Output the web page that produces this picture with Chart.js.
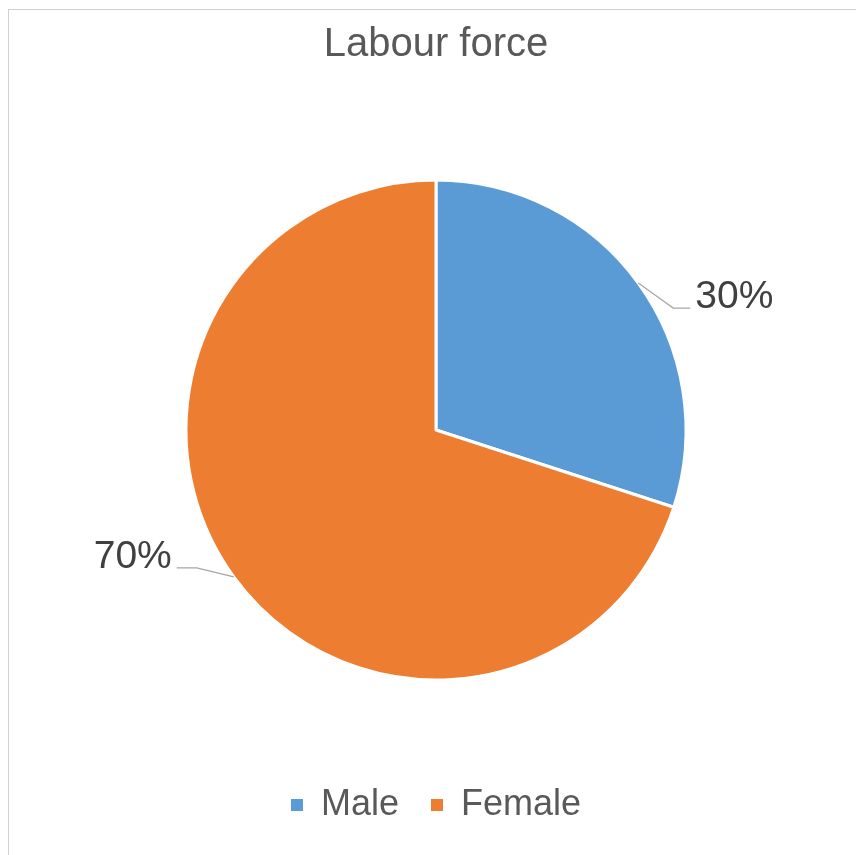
<!DOCTYPE html>
<html>
<head>
<meta charset="utf-8">
<title>Labour force</title>
<script src="https://cdn.jsdelivr.net/npm/chart.js@4.4.1/dist/chart.umd.min.js"></script>
<style>
  html, body { margin: 0; padding: 0; background: #ffffff; }
  #wrap { position: relative; width: 856px; height: 855px; overflow: hidden; }
  #frame { position: absolute; left: 8px; top: 9px; width: 900px; height: 900px; border-left: 1px solid #d0d0d0; border-top: 1px solid #d0d0d0; }
  #chart { position: absolute; left: 0; top: 0; }
</style>
</head>
<body>
<div id="wrap">
  <div id="frame"></div>
  <canvas id="chart" width="856" height="855"></canvas>
</div>
<script>
// Labour force split by sex (percent)
const categories = ["Male", "Female"];
const shares = [30, 70];
const sliceColors = ["#5B9BD5", "#ED7D31"];
const pctLabels = ["30%", "70%"];

// leader line elbow offsets from the arc edge, and the horizontal run
const leaderStyles = [
  { dx: 35, dy: 25, run: 17 },
  { dx: -37, dy: -9, run: -20 }
];

const leaderLabels = {
  id: "leaderLabels",
  afterDatasetsDraw(chart) {
    const ctx = chart.ctx;
    const meta = chart.getDatasetMeta(0);
    ctx.save();
    ctx.font = "39px 'Liberation Sans', Arial, sans-serif";
    ctx.textBaseline = "alphabetic";
    meta.data.forEach((arc, i) => {
      const p = arc.getProps(["x", "y", "startAngle", "endAngle", "outerRadius"], true);
      const mid = (p.startAngle + p.endAngle) / 2;
      const ax = p.x + Math.cos(mid) * p.outerRadius;
      const ay = p.y + Math.sin(mid) * p.outerRadius;
      const s = leaderStyles[i];
      const ex = ax + s.dx, ey = ay + s.dy;
      const hx = ex + s.run;
      ctx.strokeStyle = "#a6a6a6";
      ctx.lineWidth = 1.2;
      ctx.beginPath();
      ctx.moveTo(ax, ay);
      ctx.lineTo(ex, ey);
      ctx.lineTo(hx, ey);
      ctx.stroke();
      ctx.fillStyle = "#404040";
      ctx.textAlign = s.run > 0 ? "left" : "right";
      ctx.fillText(pctLabels[i], hx + (s.run > 0 ? 5 : -5), ey);
    });
    ctx.restore();
  }
};

new Chart(document.getElementById("chart").getContext("2d"), {
  type: "pie",
  data: {
    labels: categories,
    datasets: [{
      data: shares,
      backgroundColor: sliceColors,
      borderColor: "#ffffff",
      borderWidth: 3
    }]
  },
  options: {
    responsive: false,
    animation: false,
    devicePixelRatio: 1,
    radius: 250,
    layout: { padding: { top: 0, left: 16, right: 0, bottom: 22 } },
    plugins: {
      title: {
        display: true,
        text: "Labour force",
        color: "#595959",
        font: { family: "'Liberation Sans', Arial, sans-serif", size: 40, weight: "normal" },
        padding: { top: 21, bottom: 36 }
      },
      legend: {
        position: "bottom",
        labels: {
          color: "#595959",
          font: { family: "'Liberation Sans', Arial, sans-serif", size: 36 },
          boxWidth: 12,
          boxHeight: 12,
          padding: 32,
          generateLabels(chart) {
            return Chart.overrides.pie.plugins.legend.labels.generateLabels(chart)
              .map(item => Object.assign(item, { lineWidth: 0, strokeStyle: item.fillStyle }));
          }
        }
      },
      tooltip: { enabled: false }
    }
  },
  plugins: [leaderLabels]
});
</script>
</body>
</html>
